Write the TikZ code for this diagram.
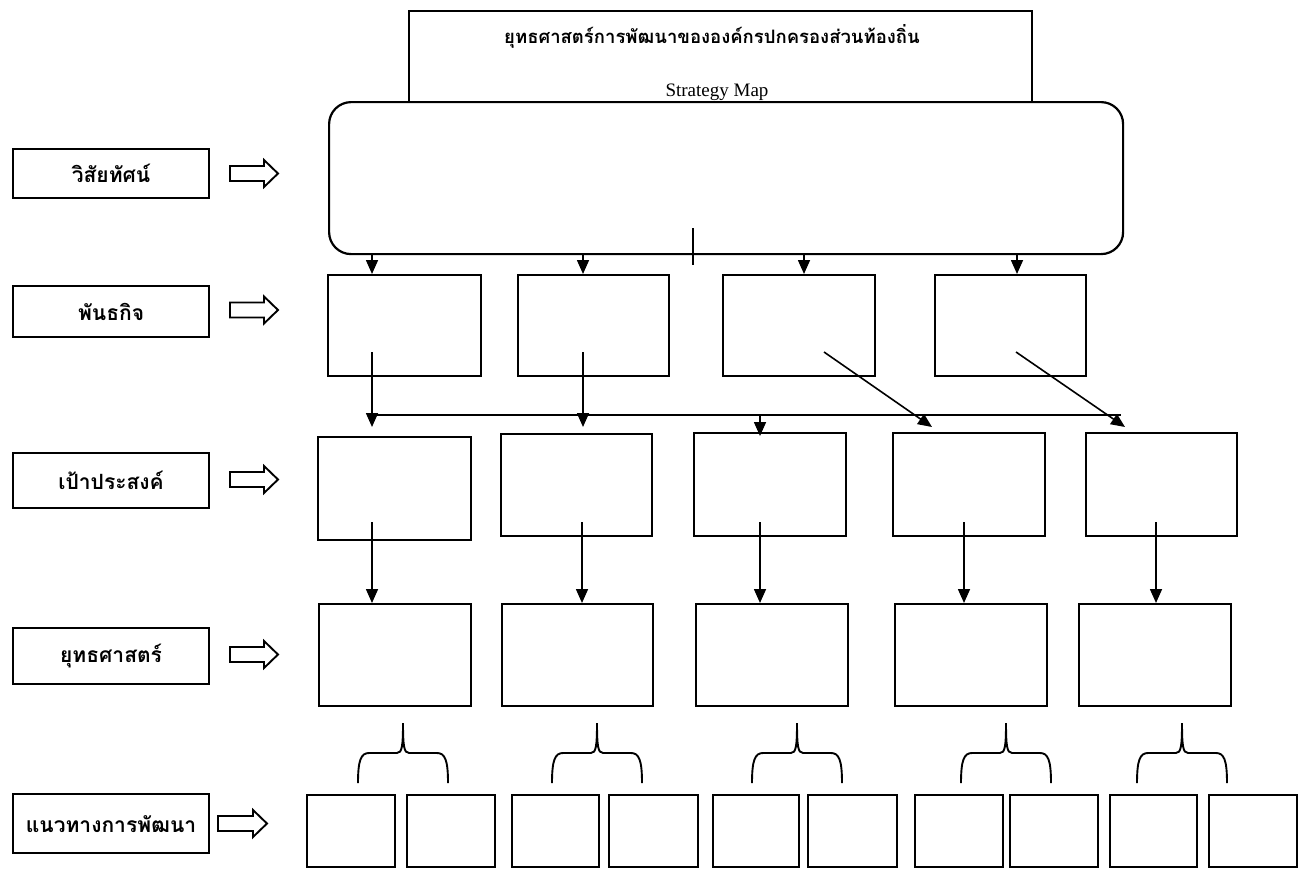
\documentclass[tikz,border=0pt]{standalone}
\usepackage{fontspec}
\setmainfont{Liberation Serif}
\newfontfamily\thai[Script=Thai]{Loma}
\usetikzlibrary{arrows.meta,calc}
\begin{document}
\begin{tikzpicture}[x=1pt,y=-1pt,
  box/.style={draw,line width=2.2pt,inner sep=0pt,anchor=north west},
  lab/.style={box,minimum width=196,font=\thai\bfseries\fontsize{21}{25}\selectfont},
  arr/.style={line width=1.6pt,-{Triangle[length=14pt,width=12pt]}},
  conn/.style={line width=1.6pt},
  brc/.style={line width=1.9pt},
  blk/.style={draw,line width=1.9pt,line join=miter}]
\fill[white] (0,0) rectangle (1306,868);
\useasboundingbox (0,0) rectangle (1306,868);

% title
\node[box,minimum width=623,minimum height=91] (T) at (408,10) {};
\node[font=\thai\bfseries\fontsize{18.5}{22}\selectfont] (Tt) at (712,36) {ยุทธศาสตร์การพัฒนาขององค์กรปกครองส่วนท้องถิ่น};
\node[font=\fontsize{19}{22}\selectfont,inner sep=0pt,anchor=base] (Ts) at (717,96) {Strategy Map};

% vision
\node[box,rounded corners=22pt,minimum width=794,minimum height=152] (V) at (328,101) {};
\draw[conn] (693,228) -- (693,265);

% missions
\node[box,minimum width=153,minimum height=101] (M1) at (327,274) {};
\node[box,minimum width=151,minimum height=101] (M2) at (517,274) {};
\node[box,minimum width=152,minimum height=101] (M3) at (722,274) {};
\node[box,minimum width=151,minimum height=101] (M4) at (934,274) {};

\coordinate (xa1) at (372,0);
\coordinate (xa2) at (583,0);
\coordinate (xa3) at (804,0);
\coordinate (xa4) at (1017,0);
\foreach \i in {1,...,4}
  \draw[arr] (V.south -| xa\i) -- (M\i.north -| xa\i);

% objectives
\node[box,minimum width=153,minimum height=103] (O1) at (317,436) {};
\node[box,minimum width=151,minimum height=102] (O2) at (500,433) {};
\node[box,minimum width=152,minimum height=103] (O3) at (693,432) {};
\node[box,minimum width=152,minimum height=103] (O4) at (892,432) {};
\node[box,minimum width=151,minimum height=103] (O5) at (1085,432) {};

\coordinate (hl) at (372,415);
\coordinate (hr) at (1121,415);
\draw[conn] (hl) -- (hr);
\coordinate (s1) at (372,352);
\coordinate (s2) at (583,352);
\coordinate (s3) at (824,352);
\coordinate (s4) at (1016,352);
\coordinate (e1) at (372,427);
\coordinate (e2) at (583,427);
\coordinate (e3) at (932,427);
\coordinate (e4) at (1125,427);
\foreach \i in {1,...,4} \draw[arr] (s\i) -- (e\i);
\coordinate (xm) at (760,0);
\draw[arr] (hl -| xm) -- ([yshift=-4pt]O3.north -| xm);

% strategies
\node[box,minimum width=152,minimum height=102] (S1) at (318,603) {};
\node[box,minimum width=151,minimum height=102] (S2) at (501,603) {};
\node[box,minimum width=152,minimum height=102] (S3) at (695,603) {};
\node[box,minimum width=152,minimum height=102] (S4) at (894,603) {};
\node[box,minimum width=152,minimum height=102] (S5) at (1078,603) {};

\coordinate (xo1) at (372,522);
\coordinate (xo2) at (582,522);
\coordinate (xo3) at (760,522);
\coordinate (xo4) at (964,522);
\coordinate (xo5) at (1156,522);
\foreach \i in {1,...,5} \draw[arr] (xo\i) -- (S\i.north -| xo\i);

% braces
\foreach \x in {403,597,797,1006,1182}
  \draw[brc] ({\x-45},783) .. controls ({\x-45},760) and ({\x-42},753) .. ({\x-34},753)
    -- ({\x-6},753) .. controls ({\x-1},753) and (\x,746) .. (\x,723)
    .. controls (\x,746) and ({\x+1},753) .. ({\x+6},753)
    -- ({\x+34},753) .. controls ({\x+42},753) and ({\x+45},760) .. ({\x+45},783);

% development guidelines
\foreach \a/\b [count=\i] in {306/394,406/494,511/598,608/697,712/798,807/896,914/1002,1009/1097,1109/1196,1208/1296}
  \node[box,minimum width={\b-\a},minimum height=72] (G\i) at (\a,794) {};

% left labels
\node[lab,minimum height=49] (L1) at (12,148) {วิสัยทัศน์};
\node[lab,minimum height=51] (L2) at (12,285) {พันธกิจ};
\node[lab,minimum height=55] (L3) at (12,452) {เป้าประสงค์};
\node[lab,minimum height=56] (L4) at (12,627) {ยุทธศาสตร์};
\node[lab,minimum height=59] (L5) at (12,793) {แนวทางการพัฒนา};

% block arrows
\foreach \xa/\xb/\yc in {230/278/173.5,230/278/310,230/278/479.5,230/278/654.5,218/267/823.5}
  \draw[blk] (\xa,{\yc-7.5}) -- ({\xb-14},{\yc-7.5}) -- ({\xb-14},{\yc-13.5}) -- (\xb,\yc)
    -- ({\xb-14},{\yc+13.5}) -- ({\xb-14},{\yc+7.5}) -- (\xa,{\yc+7.5}) -- cycle;
\end{tikzpicture}
\end{document}
